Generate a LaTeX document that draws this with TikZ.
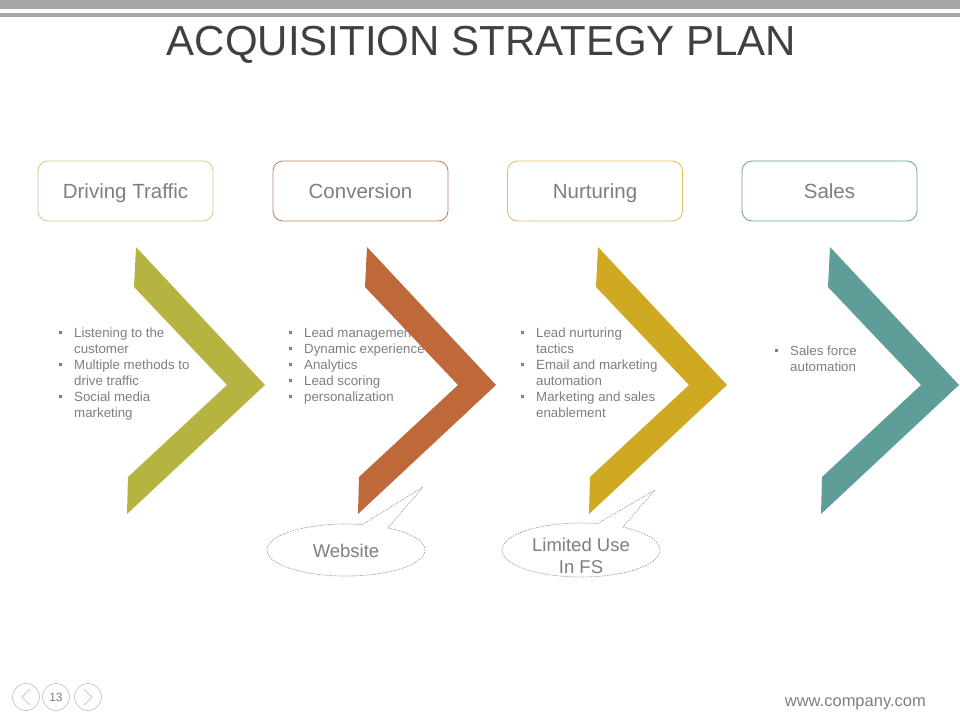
\documentclass[tikz,border=0pt]{standalone}
\usepackage{fontspec}
\setmainfont{Liberation Sans}
\usepackage{array}
\definecolor{barg}{HTML}{A6A6A6}
\definecolor{titleg}{HTML}{404040}
\definecolor{txtg}{HTML}{7F7F7F}
\definecolor{cone}{HTML}{B6B441}
\definecolor{ctwo}{HTML}{BF693B}
\definecolor{cthree}{HTML}{CFA921}
\definecolor{cfour}{HTML}{5F9D98}
\definecolor{bone}{HTML}{D2C98C}
\definecolor{btwo}{HTML}{B9805F}
\definecolor{bthree}{HTML}{DDBE55}
\definecolor{bfour}{HTML}{6A9EA6}
\definecolor{dashg}{HTML}{A0A0A0}
\definecolor{circg}{HTML}{C4C4C4}
\newcommand{\bmark}{\raisebox{3pt}{\rule{2.6pt}{2.6pt}}}
\begin{document}
\begin{tikzpicture}[x=1pt,y=1pt,
  hbox/.style={draw, rounded corners=10pt, line width=0.8pt, minimum width=175pt, minimum height=60pt,
    inner sep=0pt, text height=14.7pt, text depth=0pt, text=txtg, font=\fontsize{20.5}{24}\selectfont},
  bul/.style={anchor=base west, inner sep=0pt, text=txtg, font=\fontsize{13.3}{16}\selectfont},
  ctext/.style={anchor=base, inner sep=0pt, text=txtg, font=\fontsize{18.5}{22}\selectfont},
  callout/.style={draw=dashg, line width=0.7pt, dash pattern=on 1.6pt off 1.2pt, fill=white},
  pcirc/.style={circle, draw=circg, line width=0.7pt, minimum size=27pt, inner sep=0pt}
]
\useasboundingbox (0,0) rectangle (960,-720);
\fill[white] (0,0) rectangle (960,-720);
% top bars
\fill[barg] (0,0) rectangle (960,-9);
\fill[barg] (0,-12.7) rectangle (960,-16.7);
% title
\node[anchor=base, inner sep=0pt, text=titleg, font=\fontsize{42}{48}\selectfont] (title) at (481.5,-55) {ACQUISITION STRATEGY PLAN};
% header boxes
\node[hbox, draw=bone] (h1) at (125.5,-191) {Driving Traffic};
\node[hbox, draw=btwo] (h2) at (360.5,-191) {Conversion};
\node[hbox, draw=bthree] (h3) at (595,-191) {Nurturing};
\node[hbox, draw=bfour] (h4) at (829.5,-191) {Sales};
% bullet texts
\node[bul] (t1) at (59,-337) {\begin{tabular}[t]{@{}p{15pt}@{}l@{}}
\bmark & Listening to the\\ & customer\\ \bmark & Multiple methods to\\ & drive traffic\\ \bmark & Social media\\ & marketing\end{tabular}};
\node[bul] (t2) at (289,-337) {\begin{tabular}[t]{@{}p{15pt}@{}l@{}}
\bmark & Lead management\\ \bmark & Dynamic experience\\ \bmark & Analytics\\ \bmark & Lead scoring\\ \bmark & personalization\end{tabular}};
\node[bul] (t3) at (521,-337) {\begin{tabular}[t]{@{}p{15pt}@{}l@{}}
\bmark & Lead nurturing\\ & tactics\\ \bmark & Email and marketing\\ & automation\\ \bmark & Marketing and sales\\ & enablement\end{tabular}};
\node[bul] (t4) at (775,-355) {\begin{tabular}[t]{@{}p{15pt}@{}l@{}}
\bmark & Sales force\\ & automation\end{tabular}};
% chevrons
\foreach \xo/\col in {136/cone, 367/ctwo, 598/cthree, 830/cfour}{
  \fill[\col] (\xo,-247) -- ++(129,-138) -- ++(-138,-129) -- ++(1,37) -- ++(99,92) -- ++(-93,98) -- cycle;
}
% callouts
\coordinate (wc) at (346,-550);
\coordinate (wtip) at (423,-487);
\draw[callout] (wc) ++(58:79 and 26) arc[start angle=58, end angle=-282, x radius=79, y radius=26] -- (wtip) -- cycle;
\node[ctext] (web) at (346,-557) {Website};
\coordinate (lc) at (581,-550);
\coordinate (ltip) at (655,-490);
\draw[callout] (lc) ++(58:79 and 27) arc[start angle=58, end angle=-282, x radius=79, y radius=27] -- (ltip) -- cycle;
\node[ctext] (lim) at (581,-551) {\begin{tabular}[t]{@{}c@{}}Limited Use\\In FS\end{tabular}};
% footer
\node[pcirc] (p1) at (26,-697) {};
\node[pcirc, text=txtg, font=\fontsize{12}{12}\selectfont] (p2) at (56,-697) {13};
\node[pcirc] (p3) at (88,-697) {};
\draw[circg, line width=0.7pt] ([shift={(4,8)}]p1.center) -- ([shift={(-4,0)}]p1.center) -- ([shift={(4,-8)}]p1.center);
\draw[circg, line width=0.7pt] ([shift={(-4,8)}]p3.center) -- ([shift={(4,0)}]p3.center) -- ([shift={(-4,-8)}]p3.center);
\node[anchor=base east, inner sep=0pt, text=txtg, font=\fontsize{16.5}{20}\selectfont] (url) at (926,-706) {www.company.com};
\end{tikzpicture}
\end{document}
